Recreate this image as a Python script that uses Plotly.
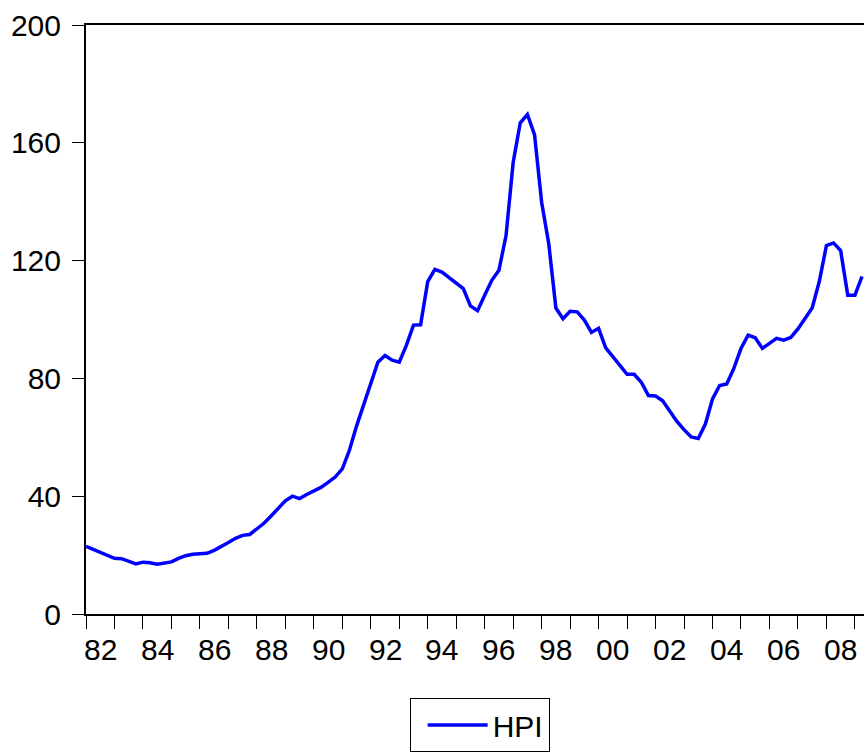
import plotly.graph_objects as go

start_year = 1982
hpi = [
    23.0, 22.0, 20.9, 19.8, 18.9, 18.8, 17.9, 17.0, 17.6, 17.4,
    16.9, 17.2, 17.7, 18.9, 19.8, 20.3, 20.4, 20.6, 21.6, 22.8,
    24.3, 25.7, 26.7, 27.0, 28.8, 30.8, 33.3, 35.7, 38.4, 40.0,
    39.2, 40.6, 41.7, 43.0, 44.7, 46.5, 49.3, 55.6, 63.8, 71.0,
    78.1, 85.5, 87.8, 86.2, 85.5, 91.2, 98.1, 98.2, 112.9, 117.0,
    116.1, 114.2, 112.4, 110.5, 104.6, 103.0, 108.2, 113.3, 116.7, 128.5,
    153.3, 166.8, 169.6, 162.8, 139.8, 125.7, 103.9, 100.3, 102.8, 102.6,
    99.8, 95.6, 97.0, 90.4, 87.4, 84.4, 81.4, 81.4, 78.7, 74.2,
    74.0, 72.4, 68.9, 65.4, 62.6, 60.1, 59.6, 64.5, 73.0, 77.6,
    78.1, 83.4, 90.2, 94.7, 93.8, 90.2, 91.9, 93.6, 93.0, 93.9,
    96.8, 100.2, 103.9, 112.9, 125.1, 126.0, 123.4, 108.2, 108.2, 114.6,
]
x = [start_year + i / 4 for i in range(len(hpi))]

tick_years = list(range(1982, 2010))
label_years = list(range(1982, 2009, 2))
x_label_pos = [y + 0.5 for y in label_years]
x_ticktext = [f"{y % 100:02d}" for y in label_years]
y_tickvals = [0, 40, 80, 120, 160, 200]

font = "Liberation Sans, Arial, sans-serif"
x_range = [1982, 2009.32]

fig = go.Figure()
fig.add_trace(go.Scatter(
    x=x, y=hpi, mode="lines", name="HPI",
    line=dict(color="#0000FF", width=3.5),
))

for pos, txt in zip(x_label_pos, x_ticktext):
    fig.add_annotation(
        x=pos, xref="x", y=-0.0604, yref="paper", yanchor="middle",
        text=txt, showarrow=False, font=dict(size=30, color="black"),
    )

fig.update_layout(
    width=865, height=753,
    margin=dict(l=86, r=1, t=25, b=132),
    paper_bgcolor="white", plot_bgcolor="white",
    font=dict(family=font, size=30, color="black"),
    showlegend=True,
    legend=dict(
        orientation="h", x=0.506, xanchor="center", y=-0.1426, yanchor="top",
        bordercolor="black", borderwidth=1, font=dict(size=30),
        itemwidth=60, indentation=12,
    ),
    xaxis=dict(
        range=x_range, automargin=False,
        tickmode="array", tickvals=tick_years, showticklabels=False,
        ticks="outside", ticklen=13, tickwidth=1, tickcolor="black",
        showgrid=False, zeroline=False,
        showline=True, linecolor="black", linewidth=2, mirror=True,
    ),
    yaxis=dict(
        range=[0, 200], automargin=False,
        tickmode="array", tickvals=y_tickvals,
        ticks="outside", ticklen=12, tickwidth=1, tickcolor="black",
        showgrid=False, zeroline=False,
        showline=True, linecolor="black", linewidth=2,
        ticklabelstandoff=5, tickfont=dict(size=30),
    ),
)

fig.write_html(
    "out.html",
    config={"displayModeBar": False},
    post_script="document.body.style.margin='0';document.body.style.overflow='hidden';",
)
